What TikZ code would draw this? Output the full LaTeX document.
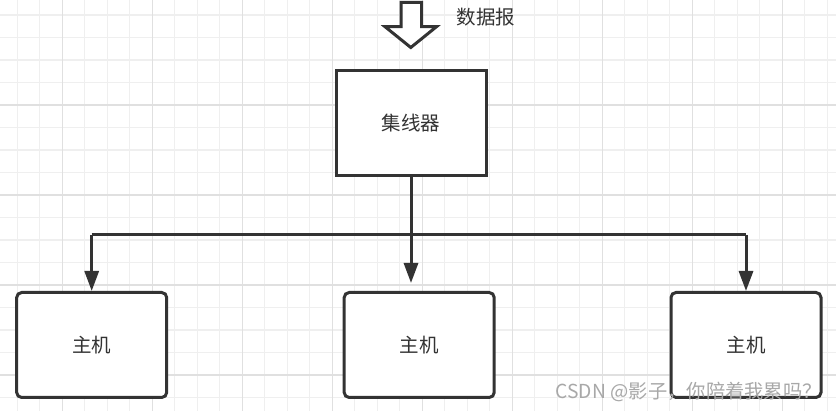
\documentclass[tikz,border=0pt]{standalone}
\usepackage{fontspec}
\newfontfamily\cjk{Noto Sans CJK SC}
\usetikzlibrary{arrows.meta}
\definecolor{ink}{HTML}{333333}
\definecolor{minorgrid}{HTML}{EFEFEF}
\definecolor{majorgrid}{HTML}{E0E0E0}
\definecolor{wm}{HTML}{A8A8A8}
\tikzset{
  hubbox/.style={draw=ink, line width=3pt, fill=white, minimum width=150pt, minimum height=105pt, inner sep=0pt, font=\cjk\fontsize{19.5}{20}\selectfont, text=ink},
  hostbox/.style={hubbox, rounded corners=5pt},
  conn/.style={draw=ink, line width=3pt},
  arr/.style={conn, -{Triangle[length=20pt,width=14pt]}},
  lbl/.style={font=\cjk\fontsize{19.5}{20}\selectfont, text=ink, inner sep=0pt},
}
\begin{document}
\begin{tikzpicture}[x=1pt,y=-1pt]
\useasboundingbox (0,0) rectangle (836,411);
\fill[white] (0,0) rectangle (836,411);
% grid
\foreach \k in {0,...,36} {
  \draw[minorgrid, line width=1.2pt] ({17.3+22.5*\k},0) -- ({17.3+22.5*\k},411);
}
\foreach \k in {0,...,18} {
  \draw[minorgrid, line width=1.2pt] (0,{15+22.5*\k}) -- (836,{15+22.5*\k});
}
\foreach \k in {0,...,8} {
  \draw[majorgrid, line width=1.2pt] ({62.3+90*\k},0) -- ({62.3+90*\k},411);
}
\foreach \k in {0,...,3} {
  \draw[majorgrid, line width=1.2pt] (0,{105+90*\k}) -- (836,{105+90*\k});
}
% block arrow
\draw[ink, line width=3pt, fill=white, line join=miter]
  (401,2.5) -- (421.5,2.5) -- (421.5,26.7) -- (436.5,26.7) -- (410.8,47.5)
  -- (385,26.7) -- (401,26.7) -- cycle;
\node[lbl] (dgram) at (486,17) {数据报};
% nodes
\node[hubbox] (hub) at (411,123.5) {\raisebox{-1.5pt}{集线器}};
\node[hostbox] (h1) at (91.7,345) {\raisebox{-3pt}{主机}};
\node[hostbox] (h2) at (419.2,345) {\raisebox{-3pt}{主机}};
\node[hostbox] (h3) at (746,345) {\raisebox{-3pt}{主机}};
\coordinate (bus) at (0,235);
\coordinate (midend) at (411,283);
% connectors
\draw[arr] (hub.south) -- (midend);
\draw[conn] (h1.north |- bus) -- (h3.north |- bus);
\draw[arr] (h1.north |- bus) -- (h1.north);
\draw[arr] (h3.north |- bus) -- (h3.north);
% watermark
\node[font=\cjk\fontsize{19.3}{19.3}\selectfont, text=wm, anchor=east, inner sep=0pt] (wmark) at (822,392) {CSDN @影子，你陪着我累吗？};
\end{tikzpicture}
\end{document}
